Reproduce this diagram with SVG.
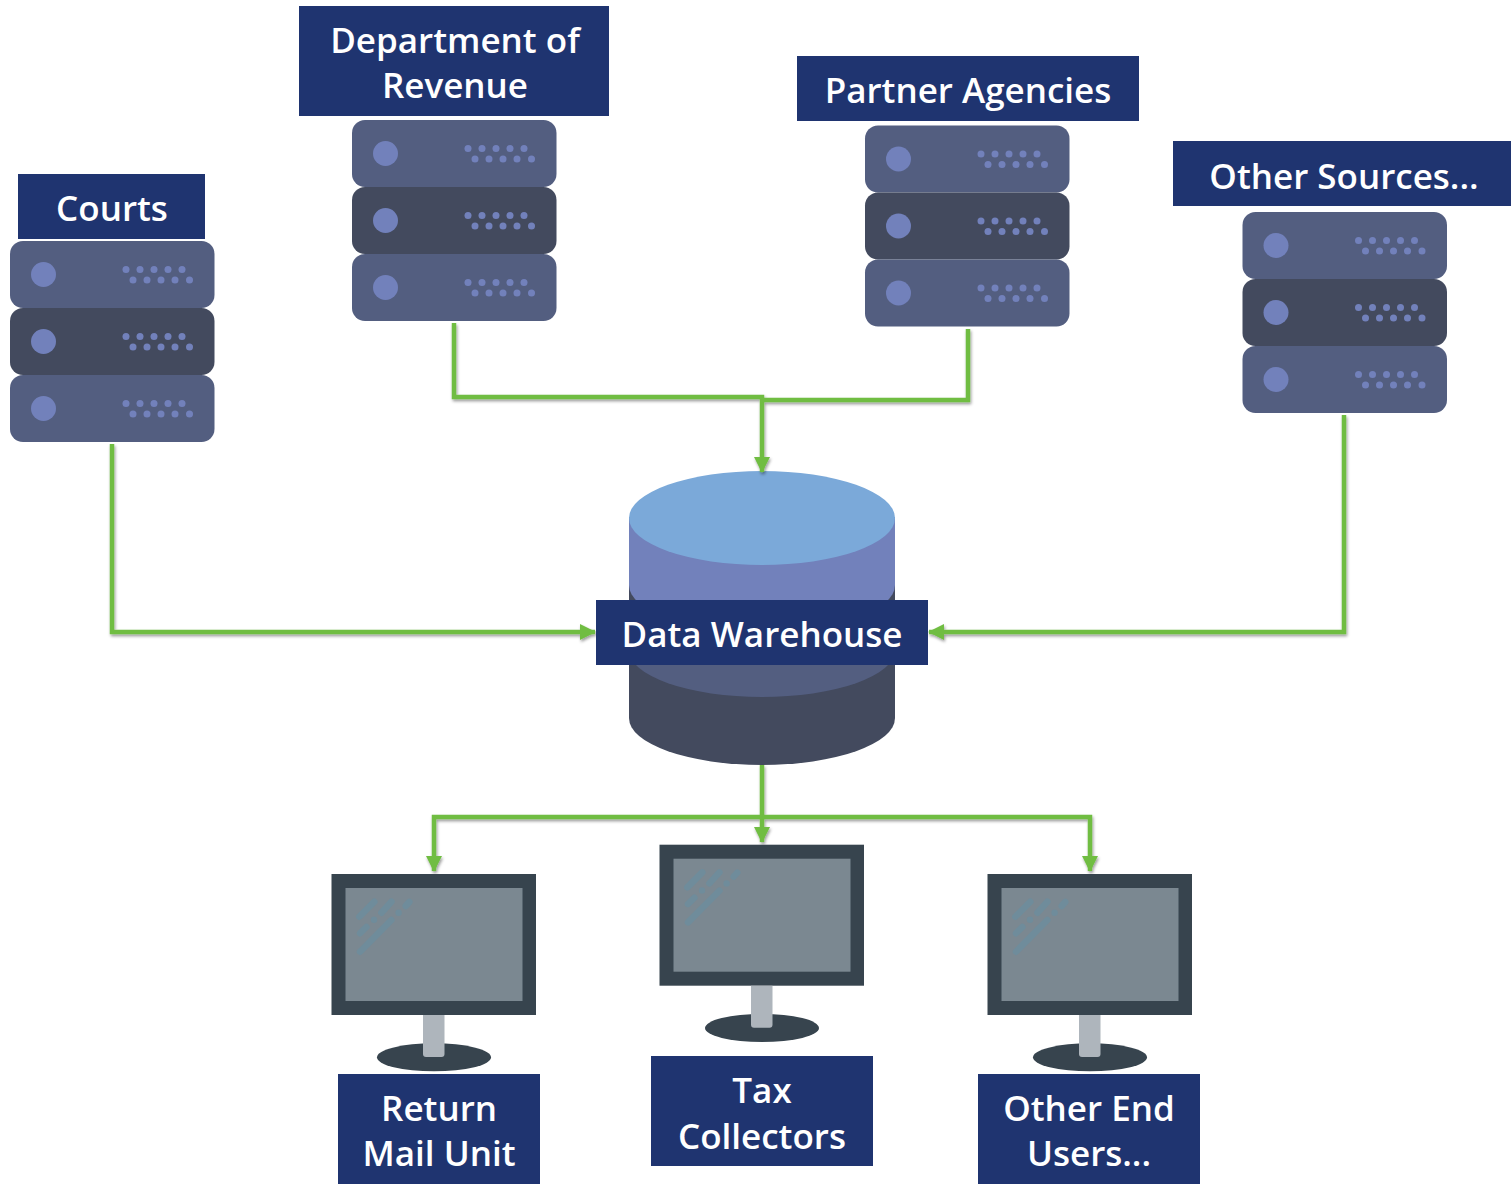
<svg xmlns="http://www.w3.org/2000/svg" xmlns:xlink="http://www.w3.org/1999/xlink" width="1511" height="1184" viewBox="0 0 1511 1184">
<style>
.lb{fill:#1f3470}
.t{font-family:"Open Sans","Noto Sans","Liberation Sans",sans-serif;font-weight:600;font-size:35px;fill:#fff;text-anchor:middle}
.c{fill:none;stroke:#70bd43;stroke-width:4.5;stroke-linejoin:miter}
.d{fill:#7281bb}
</style>
<defs>
<filter id="sh" x="-20%" y="-20%" width="140%" height="140%" filterUnits="userSpaceOnUse" primitiveUnits="userSpaceOnUse"><feDropShadow dx="1" dy="2" stdDeviation="1.5" flood-color="#000" flood-opacity=".4"/></filter>
<marker id="a" viewBox="0 0 16 16" refX="15" refY="8" markerWidth="16" markerHeight="16" markerUnits="userSpaceOnUse" orient="auto"><path d="M0 0L16 8L0 16Z" fill="#70bd43"/></marker>
<g id="row">
<circle class="d" cx="33.5" cy="33.5" r="12.5"/>
<g class="d"><circle cx="116" cy="28.5" r="3.5"/><circle cx="130" cy="28.5" r="3.5"/><circle cx="144" cy="28.5" r="3.5"/><circle cx="158" cy="28.5" r="3.5"/><circle cx="172" cy="28.5" r="3.5"/><circle cx="123" cy="39" r="3.5"/><circle cx="137" cy="39" r="3.5"/><circle cx="151" cy="39" r="3.5"/><circle cx="165" cy="39" r="3.5"/><circle cx="179.500" cy="39" r="3.5"/></g>
</g>
<g id="server">
<rect x="0" y="0" width="204.500" height="67" rx="13" fill="#535e80"/><use xlink:href="#row" href="#row"/>
<rect x="0" y="67" width="204.500" height="67" rx="13" fill="#434a5e"/><use xlink:href="#row" href="#row" y="67"/>
<rect x="0" y="134" width="204.500" height="67" rx="13" fill="#535e80"/><use xlink:href="#row" href="#row" y="134"/>
</g>
<g id="monitor">
<rect x="331.500" y="874" width="204.500" height="141" fill="#37444e"/>
<rect x="345.500" y="888" width="177" height="113" fill="#7b8891"/>
<ellipse cx="434" cy="1057.300" rx="57" ry="14" fill="#37444e"/>
<path d="M423 1015H444.500V1054a3 3 0 0 1-3 3H426a3 3 0 0 1-3-3Z" fill="#aeb5bc"/>
<g stroke="#6f8c9b" stroke-width="6.500" stroke-linecap="round" fill="none"><path d="M359.300 916.700L374.300 901.700M381.400 912.700L391.400 901.700M405.700 906L409.300 902M360 933.300L366.400 927M360 951.700L391.400 920"/></g>
<circle cx="374" cy="919.700" r="3.200" fill="#6f8c9b"/><circle cx="398.600" cy="912.700" r="3.200" fill="#6f8c9b"/>
</g>
</defs>
<g id="warehouse-cylinder">
<path d="M629 585V718A133 47 0 0 0 895 718V585Z" fill="#434a5e"/>
<ellipse cx="762" cy="650" rx="133" ry="47" fill="#535e80"/>
<path d="M629 517V585A133 47 0 0 0 895 585V517Z" fill="#7281bb"/>
<ellipse cx="762" cy="518" rx="133" ry="47" fill="#7ba9d9"/>
</g>
<g id="connectors" filter="url(#sh)">
<path class="c" d="M112 444V632H595" marker-end="url(#a)"/>
<path class="c" d="M1344 415V632H929" marker-end="url(#a)"/>
<path class="c" d="M454 323V397H762V472" marker-end="url(#a)"/>
<path class="c" d="M968 329V400H762"/>
<path class="c" d="M762 765V842" marker-end="url(#a)"/>
<path class="c" d="M762 817H434V871" marker-end="url(#a)"/>
<path class="c" d="M762 817H1090V871" marker-end="url(#a)"/>
</g>
<g id="courts"><use xlink:href="#server" href="#server" x="10" y="241"/><rect class="lb" x="18" y="174" width="187" height="65"/><text class="t" x="112" y="221">Courts</text></g>
<g id="department-of-revenue"><use xlink:href="#server" href="#server" x="352" y="120"/><rect class="lb" x="299" y="6" width="310" height="110"/><text class="t" x="455" y="53">Department of</text><text class="t" x="455" y="98">Revenue</text></g>
<g id="partner-agencies"><use xlink:href="#server" href="#server" x="865" y="125.500"/><rect class="lb" x="797" y="56" width="342" height="65"/><text class="t" x="968" y="103">Partner Agencies</text></g>
<g id="other-sources"><use xlink:href="#server" href="#server" x="1242.500" y="212"/><rect class="lb" x="1173" y="141" width="338" height="65"/><text class="t" x="1344" y="189">Other Sources...</text></g>
<g id="data-warehouse"><rect class="lb" x="596" y="600" width="332" height="65"/><text class="t" x="762" y="647">Data Warehouse</text></g>
<g id="return-mail-unit"><use xlink:href="#monitor" href="#monitor"/><rect class="lb" x="338" y="1074" width="202" height="110"/><text class="t" x="439" y="1121">Return</text><text class="t" x="439" y="1166">Mail Unit</text></g>
<g id="tax-collectors"><use xlink:href="#monitor" href="#monitor" x="328" y="-29.300"/><rect class="lb" x="651" y="1056" width="222" height="110"/><text class="t" x="762" y="1103">Tax</text><text class="t" x="762" y="1149">Collectors</text></g>
<g id="other-end-users"><use xlink:href="#monitor" href="#monitor" x="656"/><rect class="lb" x="978" y="1074" width="222" height="110"/><text class="t" x="1089" y="1121">Other End</text><text class="t" x="1089" y="1166">Users...</text></g>
</svg>
